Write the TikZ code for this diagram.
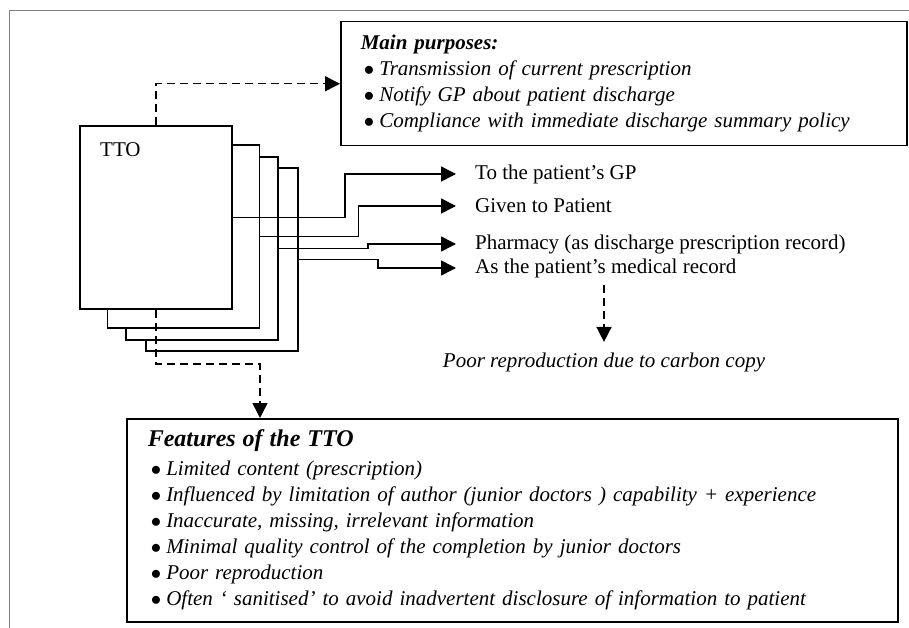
\documentclass[tikz,border=0pt]{standalone}
\usepackage{fontspec}
\setmainfont{Liberation Serif}
\usepackage{tikz}
\usetikzlibrary{arrows.meta}
\tikzset{
	sheet/.style={draw,fill=white,line width=1.5pt,minimum width=152pt,minimum height=183pt,inner sep=0pt},
	infobox/.style={draw,line width=1.5pt,inner xsep=20pt,inner ysep=0pt,align=left,font=\fontsize{21}{26}\selectfont\itshape},
	dest/.style={anchor=west,inner xsep=19pt,font=\fontsize{21}{25}\selectfont},
	diredge/.style={-{Triangle[width=15pt,length=15pt]},line width=1.5pt},
	dashedge/.style={-{Triangle[width=15pt,length=15pt]},line width=1.5pt,dash pattern=on 8pt off 5pt}
}
\newcommand{\bul}{\hspace*{3pt}\makebox[15.5pt][l]{$\bullet$}}

\begin{document}
\begin{tikzpicture}[x=1pt,y=-1pt]
	\useasboundingbox (0,0) rectangle (909,628);
	\draw[gray,line width=1pt] (9,628) -- (9,10.5) -- (909,10.5);
	%%%sheets
	\node[sheet] (s4) at (222,259.5) {};
	\node[sheet] (s3) at (202,248.5) {};
	\node[sheet] (s2) at (183.5,236.5) {};
	\node[sheet] (s1) at (156,217.5) {};
	\node[anchor=base west,inner sep=0pt,font=\fontsize{21}{25}\selectfont] (ttolbl) at (100,157) {TTO};
	%%%boxes
	\node[infobox,anchor=north west,text width=526pt,minimum height=124pt] (purp) at (340,21) {%
		\textbf{Main purposes:}\\
		\bul Transmission of current prescription\\
		\bul Notify GP about patient discharge\\
		\bul Compliance with immediate discharge summary policy};
	\node[infobox,inner xsep=21pt,anchor=north west,text width=729pt,minimum height=203pt] (feat) at (126,418) {%
		{\fontsize{24}{26}\selectfont\bfseries Features of the TTO}\\[3pt]
		\bul Limited content (prescription)\\
		\bul Influenced by limitation of author (junior doctors ) capability + experience\\
		\bul Inaccurate, missing, irrelevant information\\
		\bul Minimal quality control of the completion by junior doctors\\
		\bul Poor reproduction\\
		\bul Often ‘ sanitised’ to avoid inadvertent disclosure of information to patient};
	%%%destinations
	\node[dest] (gp) at (456,174) {To the patient’s GP};
	\node[dest] (pat) at (456,206) {Given to Patient};
	\node[dest] (pharm) at (456,244) {Pharmacy (as discharge prescription record)};
	\node[dest] (rec) at (456,268) {As the patient’s medical record};
	\node[font=\fontsize{21}{25}\selectfont\itshape] (poor) at (604,362) {Poor reproduction due to carbon copy};
	\draw[diredge] (s1.east) -- ++(112,0) |- (gp.west);
	\draw[diredge] (s2.east) -- ++(98,0) |- (pat.west);
	\draw[diredge] (s3.east) -- ++(89,0) |- (pharm.west);
	\draw[diredge] (s4.east) -- ++(79,0) |- (rec.west);
	\draw[dashedge] (s1.north) |- (purp.west);
	\draw[dashedge] (s1.south) -- ++(0,54) -| ([xshift=134pt]feat.north west);
	\draw[dashedge,shorten <=4pt,shorten >=7pt] (rec.south -| poor.north) -- (poor.north);
\end{tikzpicture}
\end{document}
